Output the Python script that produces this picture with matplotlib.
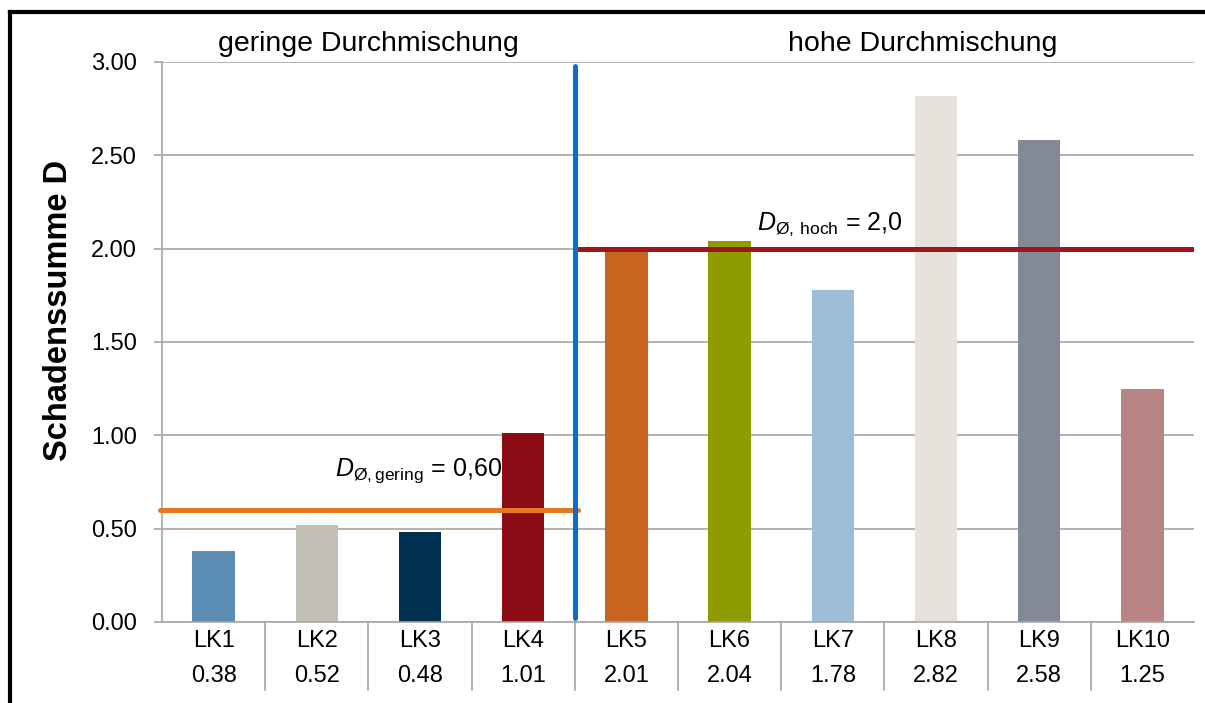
import matplotlib
matplotlib.use("Agg")
import matplotlib.pyplot as plt
import matplotlib.transforms as mtransforms
from matplotlib.lines import Line2D

plt.rcParams['font.family'] = ['Liberation Sans', 'DejaVu Sans']
plt.rcParams['mathtext.fontset'] = 'custom'
plt.rcParams['mathtext.rm'] = 'Liberation Sans'
plt.rcParams['mathtext.it'] = 'Liberation Sans:italic'

# Data
categories = ["LK1", "LK2", "LK3", "LK4", "LK5", "LK6", "LK7", "LK8", "LK9", "LK10"]
values = [0.38, 0.52, 0.48, 1.01, 2.01, 2.04, 1.78, 2.82, 2.58, 1.25]
bar_colors = ["#5B8DB5", "#C2C0B5", "#00304F", "#8A0C14", "#C9641E",
              "#8E9C00", "#9DBDD8", "#E4E2DB", "#838996", "#B88584"]
group_labels = ["geringe Durchmischung", "hohe Durchmischung"]
mean_low = 0.60
mean_high = 2.0
n_low = 4

grid_gray = "#A6A6A6"

fig = plt.figure(figsize=(12.05, 7.03), dpi=100)
W, H = 1205, 703
ax = fig.add_axes([162 / W, (H - 622) / H, (1194 - 162) / W, (622 - 62) / H])

x = list(range(len(categories)))
ax.bar(x, values, width=0.41, color=bar_colors, zorder=2)

ax.set_xlim(-0.5, len(categories) - 0.5)
ax.set_ylim(0, 3.0)
yticks = [0, 0.5, 1.0, 1.5, 2.0, 2.5, 3.0]
ax.set_yticks(yticks)
ax.set_yticklabels([f"{v:.2f}" for v in yticks])
ax.yaxis.grid(True, color=grid_gray, linewidth=1.2, zorder=0)
ax.set_axisbelow(True)
ax.tick_params(axis='y', length=6, width=1.2, color=grid_gray, pad=12, labelsize=17)
ax.set_xticks([])
for s in ["top", "right"]:
    ax.spines[s].set_visible(False)
for s in ["left", "bottom"]:
    ax.spines[s].set_color(grid_gray)
    ax.spines[s].set_linewidth(1.2)

# Category labels with values underneath, separated by vertical dividers
trans = mtransforms.blended_transform_factory(ax.transData, ax.transAxes)
for i, (c, v) in enumerate(zip(categories, values)):
    ax.text(i, -0.0446, c, transform=trans, ha='center', va='baseline', fontsize=17)
    ax.text(i, -0.107, f"{v:.2f}", transform=trans, ha='center', va='baseline', fontsize=17)
for b in range(1, len(categories)):
    ax.plot([b - 0.5, b - 0.5], [0, -0.121], transform=trans, color=grid_gray,
            linewidth=1.2, clip_on=False)

# Group separator and group mean lines
ax.plot([n_low - 0.5, n_low - 0.5], [0.02, 2.98], color="#0A6ECD", linewidth=3.6,
        solid_capstyle='round', zorder=4)
ax.plot([-0.52, n_low - 0.47], [mean_low, mean_low], color="#E87722", linewidth=3.6,
        solid_capstyle='round', zorder=3, clip_on=False)
ax.plot([n_low - 0.5, len(categories) - 0.5], [mean_high, mean_high], color="#A0141E",
        linewidth=3.6, solid_capstyle='butt', zorder=3)

ax.text(1.176, 0.782, r"$D_{\mathrm{Ø,gering}}$" + f" = {mean_low:.2f}".replace('.', ','),
        fontsize=18, ha='left', va='baseline', zorder=5)
ax.text(5.265, 2.10, r"$D_{\mathrm{Ø,}\:\mathrm{hoch}}$" + f" = {mean_high:.1f}".replace('.', ','),
        fontsize=18, ha='left', va='baseline', zorder=5)

# Group headings
ax.text(1.5, 1.0196, group_labels[0], transform=trans, ha='center', va='baseline', fontsize=20.5)
ax.text(6.87, 1.0196, group_labels[1], transform=trans, ha='center', va='baseline', fontsize=20.5)

# Axis title
ax.text(-0.1, 0.557, "Schadenssumme D", transform=ax.transAxes, rotation=90,
        ha='center', va='center', fontsize=23.5, fontweight='bold')

# Frame along left and top edges
fig.add_artist(Line2D([10 / W, 10 / W], [0, 1 - 12 / H], color='black', linewidth=3,
                      transform=fig.transFigure, solid_capstyle='projecting'))
fig.add_artist(Line2D([10 / W, 1], [1 - 12 / H, 1 - 12 / H], color='black', linewidth=3,
                      transform=fig.transFigure, solid_capstyle='projecting'))

fig.savefig("out.png", dpi=100, facecolor='white')
